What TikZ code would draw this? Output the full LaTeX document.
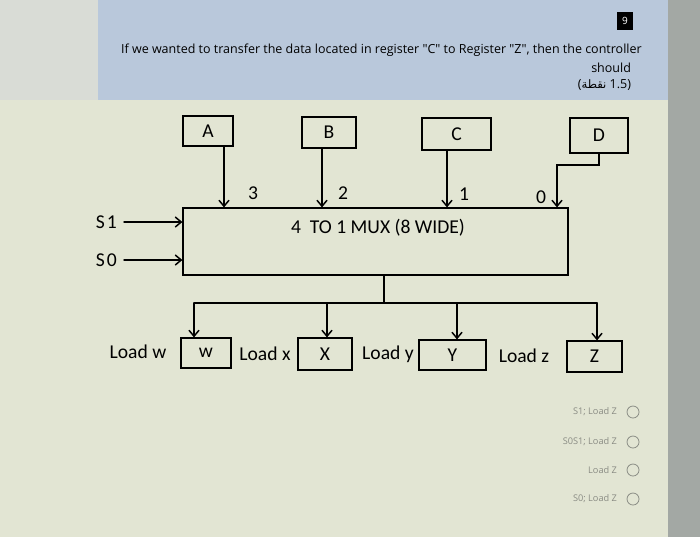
\documentclass[tikz,border=0pt]{standalone}
\usepackage{fontspec}
\setmainfont{Carlito}
\newfontfamily\qfont{Open Sans}
\newfontfamily\arabicfont[Script=Arabic]{DejaVu Sans}
\TeXXeTstate=1
\usetikzlibrary{arrows.meta}
\definecolor{pagebg}{HTML}{E2E5D3}
\definecolor{headbg}{HTML}{B9C8DB}
\definecolor{edgebg}{HTML}{A3A8A4}
\definecolor{leftbg}{HTML}{D9DCD6}
\definecolor{optgray}{HTML}{8A8C84}
\tikzset{
  reg/.style={draw,line width=0.6pt,inner sep=0pt,font=\fontsize{9.8}{12}\selectfont},
  lbl/.style={font=\fontsize{9.8}{12}\selectfont},
  opt/.style={anchor=east,text=optgray,font=\qfont\fontsize{4.6}{5}\selectfont},
}
\begin{document}
\begin{tikzpicture}[x=0.5pt,y=-0.5pt,line cap=round,>={Straight Barb[length=3pt,width=5pt]}]
  \useasboundingbox (0,0) rectangle (700,537);
  % screen background
  \fill[pagebg] (0,0) rectangle (700,537);
  \fill[leftbg] (0,0) rectangle (98,100);
  \fill[headbg] (98,0) rectangle (668,100);
  \fill[edgebg] (668,0) rectangle (700,537);
  % question
  \node[fill=black,text=white,inner sep=0pt,minimum width=8pt,minimum height=9pt,
    font=\qfont\fontsize{5}{6}\selectfont] (qnum) at (625,21) {9};
  \node[anchor=west,font=\qfont\fontsize{6.25}{7}\selectfont] (qtext) at (114,50)
    {If we wanted to transfer the data located in register "C" to Register "Z", then the controller};
  \node[anchor=east,font=\qfont\fontsize{6.25}{7}\selectfont] (should) at (638,68) {should};
  \node[anchor=east,font=\qfont\fontsize{6.25}{7}\selectfont] (points) at (638,85)
    {({\arabicfont\fontsize{5.8}{7}\selectfont\beginR نقطة\endR}\ 1.5)};
  % source registers and mux
  \node[reg,minimum width=25pt,minimum height=15pt] (A) at (208,131) {A};
  \node[reg,minimum width=27pt,minimum height=15.5pt] (B) at (329,132.5) {B};
  \node[reg,minimum width=34.5pt,minimum height=16pt] (C) at (456.5,134) {C};
  \node[reg,minimum width=29pt,minimum height=17.5pt] (D) at (599,135.5) {D};
  \node[reg,minimum width=192.5pt,minimum height=33.5pt] (mux) at (375.5,241.5) {};
  \node[lbl] (muxtext) at (378,228) {4\ \ TO\ 1\ MUX\ (8 WIDE)};
  \node[lbl] (n3) at (253,193) {3};
  \node[lbl] (n2) at (343,193) {2};
  \node[lbl] (n1) at (464,194) {1};
  \node[lbl] (n0) at (541,197) {0};
  \node[lbl,anchor=east] (s1) at (124,222) {S\kern1pt1};
  \node[lbl,anchor=east] (s0) at (124,260) {S\kern1pt0};
  \draw[line width=0.75pt,->] (s1.east) -- (s1.east -| mux.west);
  \draw[line width=0.75pt,->] (s0.east) -- (s0.east -| mux.west);
  \coordinate (ain) at ([xshift=8pt]A.south);
  \coordinate (bin) at ([xshift=-3.5pt]B.south);
  \coordinate (cin) at ([xshift=-4.75pt]C.south);
  \coordinate (dturn) at (557,165);
  \draw[line width=0.75pt,->] (ain) -- (ain |- mux.north);
  \draw[line width=0.75pt,->] (bin) -- (bin |- mux.north);
  \draw[line width=0.75pt,->] (cin) -- (cin |- mux.north);
  \draw[line width=0.75pt,->] (D.south) |- (dturn) -- (dturn |- mux.north);
  % destination registers
  \node[reg,minimum width=25pt,minimum height=15pt] (W) at (206,353) {w};
  \node[reg,minimum width=27pt,minimum height=16pt] (X) at (325,354) {X};
  \node[reg,minimum width=33.5pt,minimum height=15pt] (Y) at (452.5,355) {Y};
  \node[reg,minimum width=27.5pt,minimum height=15.5pt] (Z) at (594.5,356.5) {Z};
  \node[lbl] (loadw) at (138,352) {Load w};
  \node[lbl] (loadx) at (265,354) {Load x};
  \node[lbl] (loady) at (388,354) {Load y};
  \node[lbl] (loadz) at (524,356) {Load z};
  \coordinate (busmid) at (384,303);
  \coordinate (wt) at ([xshift=-6pt]W.north);
  \coordinate (xt) at ([xshift=1pt]X.north);
  \coordinate (yt) at ([xshift=2.25pt]Y.north);
  \coordinate (zt) at ([xshift=1.25pt]Z.north);
  \draw[line width=0.75pt] (busmid |- mux.south) -- (busmid);
  \draw[line width=0.75pt] (busmid -| wt) -- (busmid -| zt);
  \draw[line width=0.75pt,->] (busmid -| wt) -- (wt);
  \draw[line width=0.75pt,->] (busmid -| xt) -- (xt);
  \draw[line width=0.75pt,->] (busmid -| yt) -- (yt);
  \draw[line width=0.75pt,->] (busmid -| zt) -- (zt);
  % answer options
  \node[opt] (opt1) at (624,412) {S1; Load Z};
  \node[opt] (opt2) at (624,442) {S0S1; Load Z};
  \node[opt] (opt3) at (624,470) {Load Z};
  \node[opt] (opt4) at (624,499) {S0; Load Z};
  \draw[optgray,line width=0.4pt] (633,412) circle (6);
  \draw[optgray,line width=0.4pt] (633,442) circle (6);
  \draw[optgray,line width=0.4pt] (633,470) circle (6);
  \draw[optgray,line width=0.4pt] (633,499) circle (6);
\end{tikzpicture}
\end{document}
